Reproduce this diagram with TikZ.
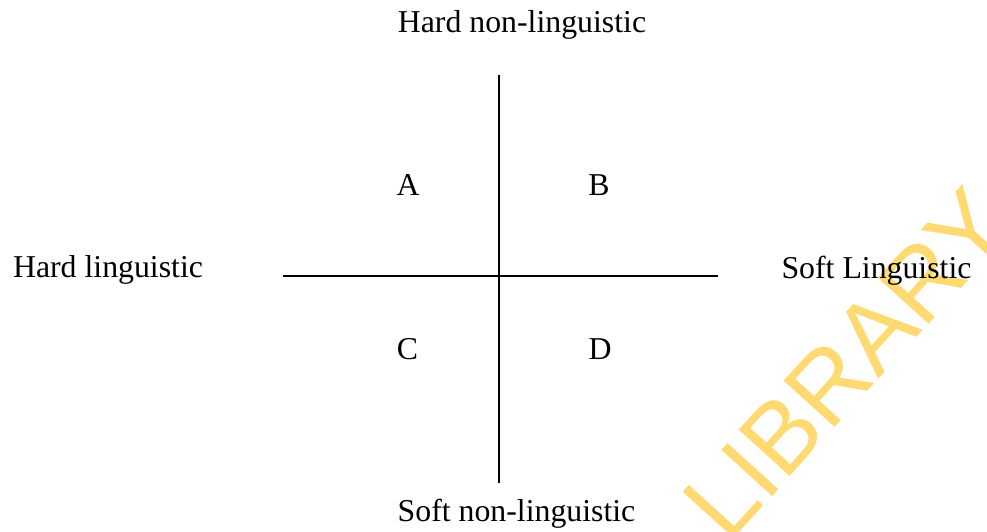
\documentclass[tikz,border=0pt]{standalone}
\usepackage{fontspec}
\setmainfont{Liberation Serif}
\newfontfamily\wmfont{Liberation Sans}
\definecolor{wmyellow}{RGB}{255,218,115}
\begin{document}
\begin{tikzpicture}[x=1pt,y=1pt,
  lbl/.style={inner sep=0pt, anchor=base, font=\fontsize{31.8}{38}\selectfont},
  axis/.style={line width=1.8pt, black}]
\useasboundingbox (0,0) rectangle (987,531);
% watermark
\begin{scope}
\clip (0,0) rectangle (987,531);
\node[inner sep=0pt, anchor=base, rotate=47.8, text=wmyellow,
  font=\wmfont\fontsize{100}{112}\selectfont] (wm) at (872,144.4) {LIBRARY};
\end{scope}
% axes
\coordinate (top) at (498.7,456);
\coordinate (bot) at (498.7,48);
\coordinate (lft) at (283,255.3);
\coordinate (rgt) at (718,255.3);
\draw[axis] (top) -- (bot);
\draw[axis] (lft) -- (rgt);
% labels
\node[lbl] (hn) at (522,498.7) {Hard non-linguistic};
\node[lbl] (hl) at (108,253.7) {Hard linguistic};
\node[lbl] (sl) at (876.5,253) {Soft Linguistic};
\node[lbl] (sn) at (516.5,9.3) {Soft non-linguistic};
\node[lbl] (A) at (408,335.3) {A};
\node[lbl] (B) at (599,335.3) {B};
\node[lbl] (C) at (407.5,172) {C};
\node[lbl] (D) at (600,172) {D};
\end{tikzpicture}
\end{document}
